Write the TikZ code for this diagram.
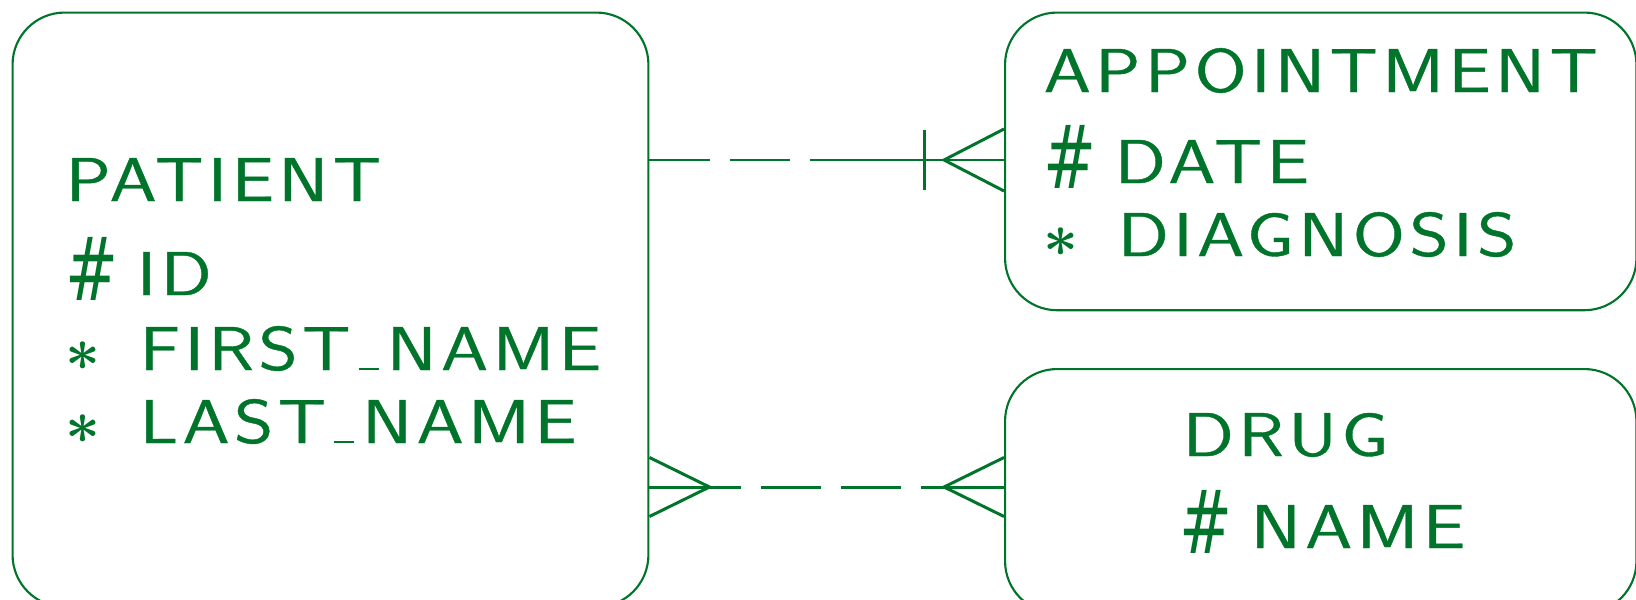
\documentclass[tikz,border=0pt]{standalone}
\usepackage{fontspec}
\usepackage{amsmath,amssymb}
\usetikzlibrary{calc,positioning}
\newfontfamily\erfont{Latin Modern Sans}[FakeStretch=1.22,LetterSpace=7,FakeBold=0.6]
\newfontfamily\hashfont{DejaVu Sans}[FakeStretch=0.72]
\definecolor{ergreen}{RGB}{0,116,42}
\newcommand{\pk}{\makebox[7.1mm][l]{\raisebox{-0.5mm}{\hashfont\fontsize{25}{28}\selectfont\#}}}
\newcommand{\mand}{\makebox[7.4mm][l]{$\boldsymbol{\ast}$}}
\newcommand{\us}{\makebox[3.6mm]{\rule{2mm}{0.7pt}}}

\tikzset{
  entity/.style={draw=ergreen, line width=0.6pt, rounded corners=5.2mm, anchor=north west, inner sep=0pt},
  attr/.style={anchor=base west, inner sep=0pt, text=ergreen, font=\erfont\fontsize{17.6}{21}\selectfont},
  rel/.style={draw=ergreen, line width=0.85pt},
  opt/.style={rel, dash pattern=on 6mm off 2mm},
}

\begin{document}
\begin{tikzpicture}[x=0.01cm,y=-0.01cm]
  \useasboundingbox (0,0) rectangle (1636,600);
  % Entities
  \node[entity, minimum width=6.355cm, minimum height=5.94cm] (patient) at (11.5,11.5) {};
  \node[entity, minimum width=6.31cm, minimum height=2.975cm] (appointment) at (1004,11.5) {};
  \node[entity, minimum width=6.31cm, minimum height=2.44cm] (drug) at (1004,368) {};
  % Attributes of PATIENT
  \node[attr] (patientname) at (65,201) {PATIENT};
  \node[attr] (patientid) at (65,295) {\pk ID};
  \node[attr] (patientfirst) at (65,370) {\mand FIRST\us NAME};
  \node[attr] (patientlast) at (65,443) {\mand LAST\us NAME};
  % Attributes of APPOINTMENT
  \node[attr] (apptname) at (1043,92) {APPOINTMENT};
  \node[attr] (apptdate) at (1043,183) {\pk DATE};
  \node[attr] (apptdiag) at (1043,256) {\mand DIAGNOSIS};
  % Attributes of DRUG
  \node[attr] (drugname) at (1182,456) {DRUG};
  \node[attr] (drugkey) at (1179,548) {\pk NAME};
  % PATIENT -- APPOINTMENT
  \coordinate (pa) at ($(patient.north east)+(0,148.5)$);
  \coordinate (ap) at ($(appointment.north west)+(0,148.5)$);
  \coordinate (pm) at ($(pa)!0.5!(ap)$);
  \draw[opt] (pa) -- (pm);
  \draw[rel] (pm) -- (ap);
  \draw[rel] ($(ap)+(-80,-30)$) -- ($(ap)+(-80,30)$);
  \draw[rel] ($(ap)+(0,-31)$) -- ($(ap)+(-60,0)$) -- ($(ap)+(0,31)$);
  % PATIENT -- DRUG
  \coordinate (pd) at ($(patient.north east)+(0,475.5)$);
  \coordinate (dp) at ($(drug.north west)+(0,119)$);
  \draw[rel] ($(pd)+(0,-29.5)$) -- ($(pd)+(60,0)$) -- ($(pd)+(0,29.5)$);
  \draw[rel] (pd) -- ($(pd)+(60,0)$);
  \draw[rel] ($(dp)+(0,-29.5)$) -- ($(dp)+(-60,0)$) -- ($(dp)+(0,29.5)$);
  \draw[rel] (dp) -- ($(dp)+(-60,0)$);
  \draw[opt, dash phase=2.9mm] ($(pd)+(60,0)$) -- ($(dp)+(-60,0)$);
\end{tikzpicture}
\end{document}
